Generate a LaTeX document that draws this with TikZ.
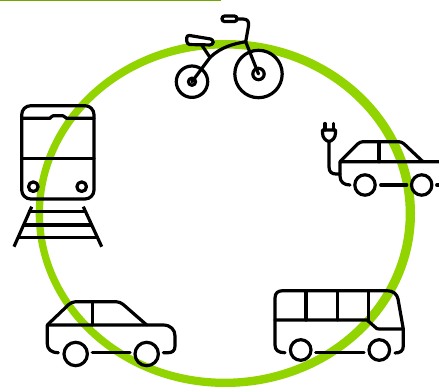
\documentclass[tikz,border=0pt]{standalone}
\usepackage{tikz}
\definecolor{ringgreen}{HTML}{92D400}
\definecolor{bargreen}{HTML}{6FA800}
\tikzset{icon/.style={line width=3.2pt,line cap=round,line join=round,black},
  wheel/.style={icon,fill=none}}
\begin{document}
\begin{tikzpicture}[x=1pt,y=-1pt]
\path[use as bounding box] (0,0) rectangle (439,387);
\fill[white] (0,0) rectangle (439,387);
\draw[bargreen,line width=1.2pt] (0,0.6)--(220.5,0.6);
\fill[ringgreen,even odd rule] (225.35,213.5) ellipse [x radius=189.65,y radius=173.5] (224.35,213.6) ellipse [x radius=181.35,y radius=165.1];
\begin{scope}
\coordinate (rear) at (192,81.7); \coordinate (front) at (258.5,74);
\coordinate (neck) at (245.7,41.7); \coordinate (post) at (210,57.5);
\draw[wheel] (rear) circle (15.7) (rear) circle (3.6);
\draw[wheel] (front) circle (23.7) (front) circle (5.7);
\draw[icon] (rear)--(post) .. controls (221,47) and (233,44) .. (neck);
\draw[icon] (neck)--(front);
\draw[icon] (post)--(201.7,45);
\draw[icon] (237,19) -- (243,19) .. controls (248,19) and (249,22) .. (248.5,26) -- (neck);
\draw[icon,rounded corners=2.6pt] (222,16)--(237,16)--(237,21.5)--(222,21.5)--cycle;
\draw[icon,fill=white,rounded corners=3pt] (186.5,35)--(213.5,39.5)--(213,45)--(187,44.5)--cycle;
\end{scope}
\begin{scope}
\foreach \x in {325,333.3} {\draw[icon] (\x,123.5)--(\x,130);}
\draw[icon] (322.5,130)--(335.5,130)--(335.5,133) .. controls (335.5,138) and (332,141) .. (329,141.5) .. controls (326,141) and (322.5,138) .. (322.5,133)--cycle;
\draw[icon] (329,141.5)--(329,167) .. controls (329,172) and (332,174) .. (336,174)--(340,174);
\draw[icon] (439,161.7)--(340,161.7)--(340,176) .. controls (340,182) and (344,185) .. (350,185);
\draw[icon,rounded corners=3pt] (340,161.7)--(360,141.7)--(401.7,141.7)--(423,161.7);
\draw[icon] (379,141.7)--(379,161.7);
\foreach \x in {365,421.7} {\draw[wheel] (\x,185) circle (10.2);}
\draw[icon] (380.7,185)--(406.7,185);
\draw[icon] (436.7,185)--(439,185);
\end{scope}
\begin{scope}
\draw[icon,rounded corners=9pt] (21.7,105.7) rectangle (94,199);
\draw[icon] (21.7,118.3)--(50,118.3) .. controls (51,118.3) and (51,115.8) .. (53,115.8)--(63,115.8) .. controls (65,115.8) and (65,118.3) .. (66.5,118.3)--(94,118.3);
\draw[icon] (21.7,158.3)--(94,158.3);
\foreach \x in {33.3,81.7} {\draw[wheel] (\x,186.7) circle (4.8);}
\draw[icon,line cap=butt] (31.7,206.7)--(14,246.7);
\draw[icon,line cap=butt] (83.3,206.7)--(101.7,246.7);
\draw[icon,line cap=butt] (28.3,211.7)--(85.5,211.7);
\draw[icon,line cap=butt] (23,225)--(91,225);
\draw[icon,line cap=butt] (19,237.7)--(96.5,237.7);
\end{scope}
\begin{scope}
\draw[icon] (58.3,352.7) .. controls (51,352.7) and (47.3,349) .. (47.3,344)--(47.3,325)--(163,325) .. controls (171,325) and (175,330) .. (175,336)--(175,346) .. controls (175,351) and (172,352.7) .. (168,352.7)--(163.3,352.7);
\draw[icon,rounded corners=4pt] (47.3,325)--(71.7,301.7)--(120,301.7)--(146.7,325);
\draw[icon] (92.7,301.7)--(92.7,325);
\foreach \x in {75.7,146.7} {\draw[wheel] (\x,354) circle (11.7);}
\draw[icon] (92.3,352.7)--(130,352.7);
\end{scope}
\begin{scope}
\draw[icon] (285,352.7) .. controls (278,352.7) and (275,350) .. (275,345)--(275,298) .. controls (275,293) and (278,290.7) .. (283,290.7)--(387,290.7) .. controls (393,290.7) and (397,294) .. (398,299)--(403.3,329)--(403.3,346) .. controls (403.3,351) and (400,353) .. (395,353);
\draw[icon] (275,320)--(367,320)--(375,327) .. controls (376,328.5) and (377,329) .. (379,329)--(403.3,329);
\foreach \x in {306,337.3,368.7} {\draw[icon] (\x,290.7)--(\x,320);}
\foreach \x in {300.7,379.3} {\draw[wheel] (\x,350) circle (10.3);}
\draw[icon] (315.7,352.7)--(364,352.7);
\end{scope}
\end{tikzpicture}
\end{document}
